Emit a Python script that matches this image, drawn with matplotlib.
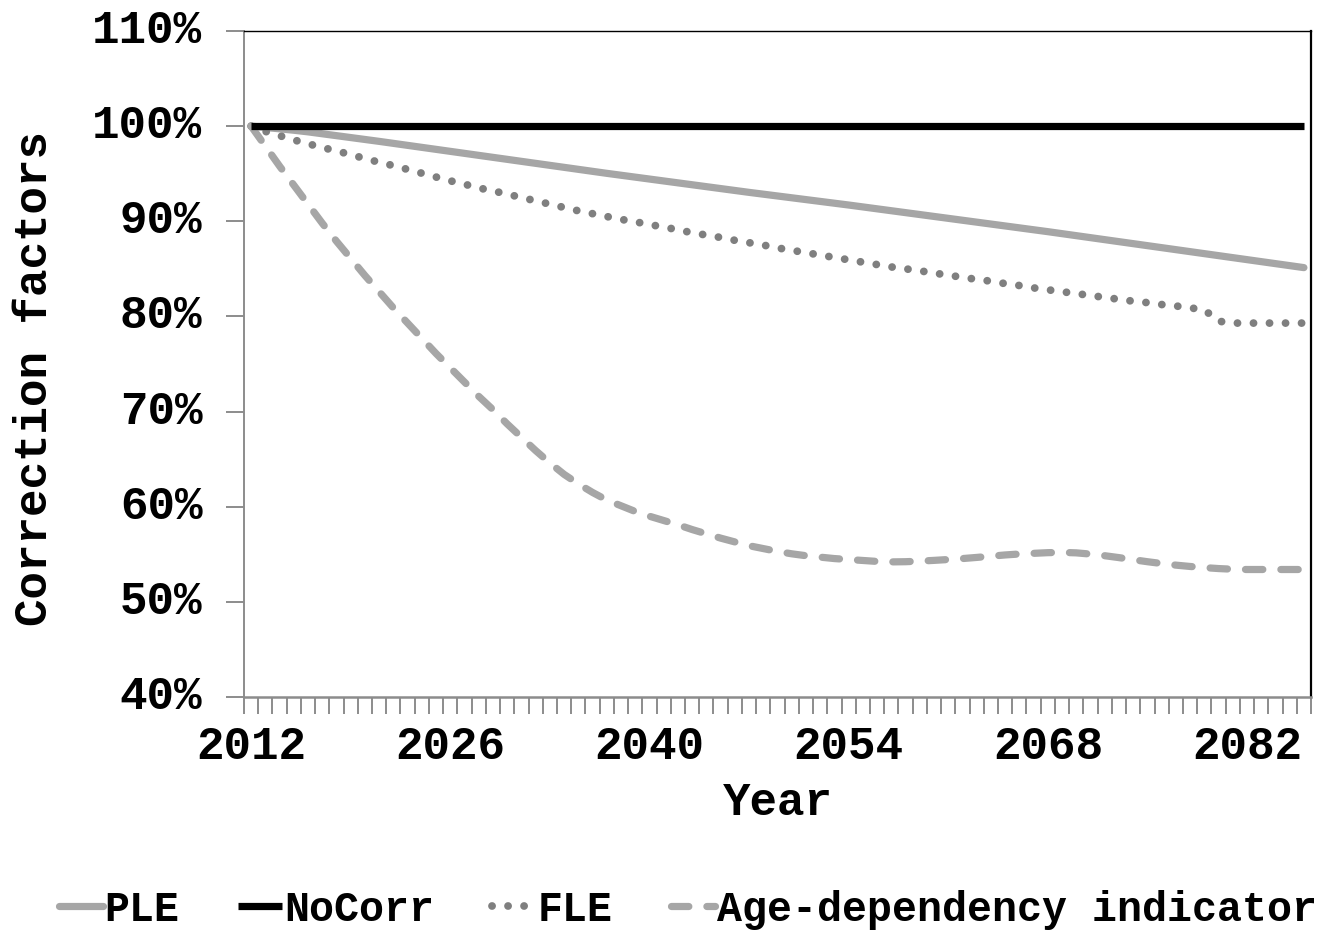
import matplotlib
matplotlib.use("Agg")
import matplotlib.pyplot as plt
from matplotlib.ticker import FixedLocator, FuncFormatter

# Projection years and correction factors (%)
years = list(range(2012, 2087))

ple = [100.0, 99.86, 99.72, 99.57, 99.4, 99.2, 99.0, 98.8, 98.6, 98.4,
       98.19, 97.98, 97.77, 97.56, 97.35, 97.14, 96.93, 96.72, 96.51, 96.3,
       96.09, 95.88, 95.67, 95.46, 95.25, 95.04, 94.84, 94.64, 94.44, 94.24,
       94.04, 93.84, 93.64, 93.44, 93.24, 93.04, 92.85, 92.66, 92.47, 92.28,
       92.09, 91.9, 91.71, 91.51, 91.31, 91.11, 90.91, 90.71, 90.51, 90.31,
       90.11, 89.91, 89.71, 89.51, 89.31, 89.11, 88.91, 88.7, 88.49, 88.28,
       88.07, 87.86, 87.65, 87.44, 87.23, 87.02, 86.81, 86.6, 86.39, 86.18,
       85.97, 85.76, 85.55, 85.34, 85.13]

nocorr = [100.0] * 75

fle = [100.0, 99.45, 99.0, 98.55, 98.15, 97.75, 97.4, 97.0, 96.6, 96.2,
       95.85, 95.45, 95.05, 94.65, 94.25, 93.9, 93.5, 93.2, 92.85, 92.5,
       92.15, 91.8, 91.45, 91.1, 90.8, 90.5, 90.2, 89.95, 89.65, 89.4,
       89.1, 88.8, 88.55, 88.3, 88.0, 87.75, 87.5, 87.2, 86.95, 86.7,
       86.45, 86.2, 85.95, 85.7, 85.45, 85.2, 85.0, 84.8, 84.55, 84.35,
       84.1, 83.9, 83.7, 83.45, 83.25, 83.0, 82.8, 82.6, 82.4, 82.2,
       82.0, 81.8, 81.6, 81.45, 81.25, 81.1, 80.9, 80.7, 79.5, 79.3,
       79.3, 79.3, 79.3, 79.3, 79.3]

age_dep = [100.0, 97.9, 95.8, 93.8, 91.8, 89.8, 87.9, 86.1, 84.3, 82.6,
           80.9, 79.3, 77.7, 76.1, 74.6, 73.1, 71.6, 70.2, 68.7, 67.3,
           65.9, 64.6, 63.4, 62.4, 61.5, 60.7, 60.1, 59.5, 59.0, 58.55,
           58.1, 57.6, 57.15, 56.7, 56.3, 55.9, 55.6, 55.3, 55.05, 54.85,
           54.7, 54.55, 54.45, 54.35, 54.25, 54.2, 54.22, 54.28, 54.36, 54.45,
           54.55, 54.67, 54.8, 54.93, 55.03, 55.1, 55.17, 55.2, 55.15, 55.02,
           54.85, 54.65, 54.43, 54.22, 54.03, 53.86, 53.72, 53.6, 53.5, 53.43,
           53.4, 53.4, 53.4, 53.4, 53.4]

year_labels = [2012, 2026, 2040, 2054, 2068, 2082]
y_ticks = [40, 50, 60, 70, 80, 90, 100, 110]

FONT = "Liberation Mono"
FS = 33
LEG_FS = 30

fig = plt.figure(figsize=(13.23, 9.30), dpi=100)
ax = fig.add_axes([244 / 1323, 1 - 697 / 930, (1311 - 244) / 1323, (697 - 31) / 930])

light = "#a6a6a6"
mid = "#7f7f7f"

ax.plot(years, ple, color=light, lw=5.2, solid_capstyle="round", label="PLE", zorder=3)
ax.plot(years, nocorr, color="black", lw=5.2, solid_capstyle="butt", label="NoCorr", zorder=4)
ax.plot(years, fle, color=mid, lw=5.6, linestyle=(0, (0.01, 2.05)),
        dash_capstyle="round", label="FLE", zorder=3)
ax.plot(years, age_dep, color=light, lw=5.2, linestyle=(0, (2.4, 2.5)),
        dash_capstyle="round", label="Age-dependency indicator", zorder=3)

ax.set_xlim(years[0] - 0.5, years[-1] + 0.5)
ax.set_ylim(40, 110)

# category boundaries as minor ticks, labels every 14 years
ax.xaxis.set_minor_locator(FixedLocator([y - 0.5 for y in years] + [years[-1] + 0.5]))
ax.xaxis.set_major_locator(FixedLocator(year_labels))
ax.tick_params(axis="x", which="minor", direction="out", length=12, width=1.4, color="#8c8c8c")
ax.tick_params(axis="x", which="major", length=0, pad=20)
ax.yaxis.set_major_locator(FixedLocator(y_ticks))
ax.yaxis.set_major_formatter(FuncFormatter(lambda v, p: f"{int(v)}%"))
ax.tick_params(axis="y", which="major", direction="out", length=13, width=1.4,
               color="#8c8c8c", pad=17)

for lab in ax.get_xticklabels() + ax.get_yticklabels():
    lab.set_fontfamily(FONT)
    lab.set_fontweight("bold")
    lab.set_fontsize(FS)
for lab in ax.get_yticklabels():
    lab.set_verticalalignment("center")

ax.spines["left"].set_color("#8c8c8c")
ax.spines["left"].set_linewidth(1.4)
ax.spines["bottom"].set_color("#8c8c8c")
ax.spines["bottom"].set_linewidth(1.8)
ax.spines["top"].set_color("black")
ax.spines["top"].set_linewidth(1.0)
ax.spines["right"].set_color("black")
ax.spines["right"].set_linewidth(1.6)

fig.text(35 / 1323, 1 - 379 / 930, "Correction factors", rotation=90,
         ha="center", va="center", fontfamily=FONT, fontweight="bold", fontsize=FS)
fig.text(778 / 1323, 1 - 803 / 930, "Year", ha="center", va="center",
         fontfamily=FONT, fontweight="bold", fontsize=FS)

leg = fig.legend(loc="center", bbox_to_anchor=(688 / 1323, 1 - 910 / 930), ncol=4,
                 frameon=False, handlelength=1.05, handletextpad=0.05,
                 columnspacing=1.4, borderpad=0.1,
                 prop={"family": FONT, "weight": "bold", "size": LEG_FS})

fig.savefig("out.png", dpi=100, facecolor="white")
